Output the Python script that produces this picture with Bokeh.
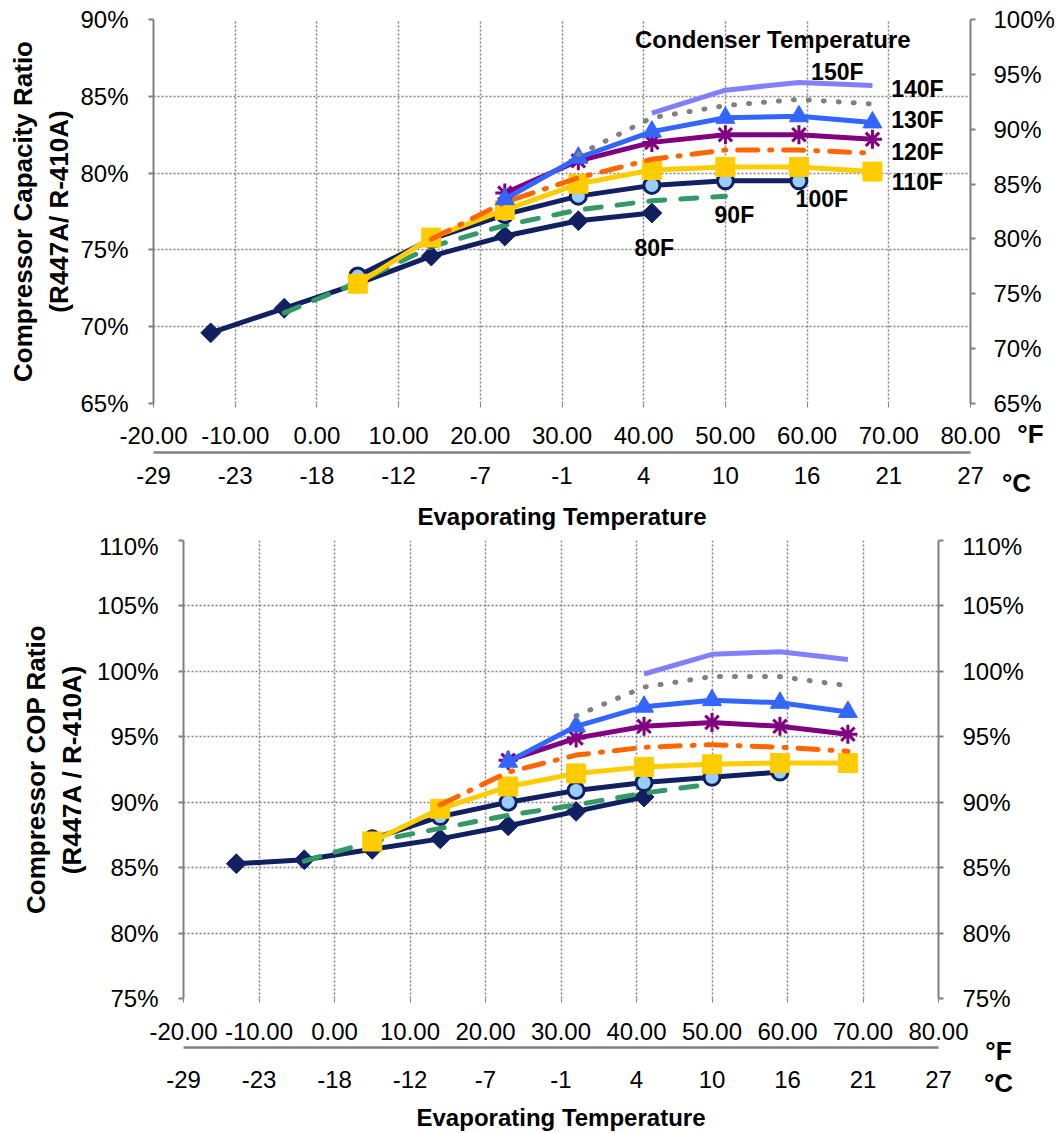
import numpy as np
from bokeh.plotting import figure
from bokeh.models import Range1d, LinearAxis, FixedTicker, Label, PrintfTickFormatter
from bokeh.embed import file_html
from bokeh.resources import INLINE

# ---------------- data ----------------
EVAP_F = [-13, -4, 5, 14, 23, 32, 41, 50, 59, 68]          # evaporating temperature, F
F_TICKS = [-20, -10, 0, 10, 20, 30, 40, 50, 60, 70, 80]
C_LABELS = ["-29", "-23", "-18", "-12", "-7", "-1", "4", "10", "16", "21", "27"]
CAP_TICKS_L = [65, 70, 75, 80, 85, 90]
CAP_TICKS_R = [65, 70, 75, 80, 85, 90, 95, 100]
COP_TICKS = [75, 80, 85, 90, 95, 100, 105, 110]

CONDENSERS = ["80F", "90F", "100F", "110F", "120F", "130F", "140F", "150F", "160F"]
# first evaporating point index of each condenser-temperature series
START_IDX = [0, 1, 2, 2, 3, 4, 4, 5, 6]

# Compressor capacity ratio (R447A / R-410A), %
cap_80F = [69.6, 71.2, 72.8, 74.6, 75.9, 76.9, 77.4]
cap_90F = [70.9, 72.9, 75.2, 76.6, 77.6, 78.2, 78.5]
cap_100F = [73.3, 75.7, 77.3, 78.5, 79.2, 79.5, 79.5]
cap_110F = [72.8, 75.8, 77.6, 79.3, 80.2, 80.4, 80.4, 80.1]
cap_120F = [75.7, 78.1, 79.7, 80.9, 81.5, 81.5, 81.3]
cap_130F = [78.7, 80.8, 82.0, 82.5, 82.5, 82.2]
cap_140F = [78.3, 81.0, 82.7, 83.6, 83.7, 83.3]
cap_150F = [81.2, 83.6, 84.4, 84.8, 84.5]
cap_160F = [83.9, 85.4, 85.9, 85.7]

# Compressor COP ratio (R447A / R-410A), %
cop_80F = [85.3, 85.6, 86.4, 87.2, 88.2, 89.3, 90.4]
cop_90F = [85.5, 87.0, 88.0, 89.0, 89.8, 90.7, 91.4]
cop_100F = [87.2, 88.9, 90.0, 90.9, 91.5, 91.9, 92.3]
cop_110F = [87.0, 89.5, 91.2, 92.2, 92.7, 92.9, 93.0, 93.0]
cop_120F = [89.8, 92.3, 93.6, 94.2, 94.4, 94.2, 93.9]
cop_130F = [93.2, 94.9, 95.8, 96.1, 95.8, 95.2]
cop_140F = [93.1, 95.8, 97.3, 97.8, 97.6, 96.9]
cop_150F = [96.6, 98.8, 99.6, 99.6, 98.9]
cop_160F = [99.8, 101.3, 101.5, 100.9]

CAP = [cap_80F, cap_90F, cap_100F, cap_110F, cap_120F, cap_130F, cap_140F, cap_150F, cap_160F]
COP = [cop_80F, cop_90F, cop_100F, cop_110F, cop_120F, cop_130F, cop_140F, cop_150F, cop_160F]

# ---------------- styles ----------------
NAVY = "#112060"
STYLES = [
    dict(color=NAVY, dash="solid", marker="diamond"),
    dict(color="#339966", dash="16 16", marker=None),
    dict(color=NAVY, dash="solid", marker="circle"),
    dict(color="#FFCC00", dash="solid", marker="square"),
    dict(color="#FF6600", dash="20 12 2 12", marker=None),
    dict(color="#800080", dash="solid", marker="asterisk"),
    dict(color="#3366FF", dash="solid", marker="triangle"),
    dict(color="#808080", dash="1 14", marker=None),
    dict(color="#8080FF", dash="solid", marker=None),
]

FONT = "Liberation Sans"
GRID = "#808080"


def draw_series(p, values_list):
    for vals, start, st in zip(values_list, START_IDX, STYLES):
        xs = EVAP_F[start:start + len(vals)]
        cap = "round" if st["dash"] != "solid" else "butt"
        p.line(xs, vals, line_color=st["color"], line_width=5,
               line_dash=st["dash"], line_cap=cap, line_join="round")
        m = st["marker"]
        if m == "diamond":
            p.scatter(xs, vals, marker="square", angle=np.pi / 4, size=14,
                      fill_color=NAVY, line_color=NAVY)
        elif m == "circle":
            p.scatter(xs, vals, marker="circle", size=16, fill_color="#99CCFF",
                      line_color=NAVY, line_width=3)
        elif m == "square":
            p.scatter(xs, vals, marker="square", size=19, fill_color=st["color"],
                      line_color=st["color"])
        elif m == "asterisk":
            p.scatter(xs, vals, marker="asterisk", size=19, line_color=st["color"],
                      line_width=3)
        elif m == "triangle":
            p.scatter(xs, vals, marker="triangle", size=19, fill_color=st["color"],
                      line_color=st["color"])


def make_fig(height, y0, y1, ticks_l, ticks_r, r0, r1, ylabel, borders, std):
    left, right, top, bottom = borders
    p = figure(width=1060, height=height, x_range=Range1d(-20, 80),
               y_range=Range1d(y0, y1), output_backend="svg",
               toolbar_location=None, min_border_left=left,
               min_border_right=right, min_border_top=top,
               min_border_bottom=bottom)
    p.outline_line_color = None
    p.background_fill_color = "white"
    p.border_fill_color = "white"

    for g in (p.xgrid[0], p.ygrid[0]):
        g.grid_line_color = GRID
        g.grid_line_dash = "2 2"
        g.grid_line_width = 1.5

    # primary x axis (F)
    xa = p.below[0]
    xa.ticker = FixedTicker(ticks=F_TICKS)
    xa.formatter = PrintfTickFormatter(format="%.2f")
    xa.axis_line_color = None
    xa.major_tick_out = 4
    xa.major_tick_in = 0
    xa.major_tick_line_color = GRID
    xa.minor_tick_line_color = None
    xa.major_label_standoff = std["fx"]
    xa.major_label_text_font = FONT
    xa.major_label_text_font_size = "24px"
    xa.major_label_text_color = "black"
    # invisible spacer below the F labels (gap before the C axis line)
    xa.axis_label = "\u00a0"
    xa.axis_label_text_font_size = "1px"
    xa.axis_label_standoff = std["gap"]

    # left y axis
    ya = p.left[0]
    ya.ticker = FixedTicker(ticks=ticks_l)
    ya.formatter = PrintfTickFormatter(format="%d%%")
    ya.axis_line_color = GRID
    ya.axis_line_width = 2
    ya.major_tick_out = 5
    ya.major_tick_in = 0
    ya.major_tick_line_color = GRID
    ya.major_tick_line_width = 2
    ya.minor_tick_line_color = None
    ya.major_label_standoff = std["ly"]
    ya.major_label_text_font = FONT
    ya.major_label_text_font_size = "24px"
    ya.major_label_text_color = "black"
    ya.axis_label = ylabel
    ya.axis_label_text_font = FONT
    ya.axis_label_text_font_style = "bold"
    ya.axis_label_text_font_size = "26px"
    ya.axis_label_text_color = "black"
    ya.axis_label_standoff = std["lt"]

    # right y axis
    p.extra_y_ranges = {"r": Range1d(r0, r1)}
    ra = LinearAxis(y_range_name="r", ticker=FixedTicker(ticks=ticks_r),
                    formatter=PrintfTickFormatter(format="%d%%"))
    ra.axis_line_color = GRID
    ra.axis_line_width = 2
    ra.major_tick_out = 5
    ra.major_tick_in = 0
    ra.major_tick_line_color = GRID
    ra.major_tick_line_width = 2
    ra.minor_tick_line_color = None
    ra.major_label_standoff = std["ry"]
    ra.major_label_text_font = FONT
    ra.major_label_text_font_size = "24px"
    ra.major_label_text_color = "black"
    p.add_layout(ra, "right")

    # secondary x axis (C)
    ca = LinearAxis(ticker=FixedTicker(ticks=F_TICKS),
                    major_label_overrides=dict(zip(F_TICKS, C_LABELS)))
    ca.axis_line_color = GRID
    ca.axis_line_width = 2.5
    ca.major_tick_out = 0
    ca.major_tick_in = 0
    ca.minor_tick_line_color = None
    ca.major_tick_line_color = None
    ca.major_label_standoff = std["cx"]
    ca.major_label_text_font = FONT
    ca.major_label_text_font_size = "24px"
    ca.major_label_text_color = "black"
    ca.axis_label = "Evaporating Temperature"
    ca.axis_label_text_font = FONT
    ca.axis_label_text_font_style = "bold"
    ca.axis_label_text_font_size = "24px"
    ca.axis_label_text_color = "black"
    ca.axis_label_standoff = std["ct"]
    p.add_layout(ca, "below")
    return p


def add_label(p, x, y, text, size="23px"):
    p.add_layout(Label(x=x, y=y, text=text, text_font=FONT,
                       text_font_style="bold", text_font_size=size,
                       text_color="black", text_align="center",
                       text_baseline="middle"))


def unit_fig(left, top, w, h, items):
    # small overlay canvas (pixel coordinates, y downwards) for the unit marks
    f = figure(width=w, height=h, x_range=Range1d(0, w), y_range=Range1d(h, 0),
               output_backend="svg", toolbar_location=None,
               x_axis_type=None, y_axis_type=None,
               min_border_left=0, min_border_right=0, min_border_top=0,
               min_border_bottom=0)
    f.grid.visible = False
    f.outline_line_color = None
    f.background_fill_alpha = 0
    f.border_fill_alpha = 0
    f.styles = {"position": "absolute", "left": f"{left}px", "top": f"{top}px"}
    for text, x, y in items:
        add_label(f, x, y, text, "26px")
    return f


# ---------------- top chart: capacity ----------------
p1 = make_fig(532, 65, 90, CAP_TICKS_L, CAP_TICKS_R, 65, 100,
              "Compressor Capacity Ratio\n(R447A/ R-410A)",
              (153, 90, 19, 128),
              dict(fx=19, gap=2, ly=20, lt=3, ry=18, cx=14, ct=16))
draw_series(p1, CAP)

add_label(p1, 55.8, 88.7, "Condenser Temperature", "24px")
CAP_LABEL_POS = [(41.3, 75.1), (51.1, 77.3), (61.8, 78.3), (73.5, 79.4),
                 (73.5, 81.4), (73.5, 83.45), (73.5, 85.5), (63.7, 86.6)]
for name, (lx, ly) in zip(CONDENSERS[:8], CAP_LABEL_POS):
    add_label(p1, lx, ly, name)

# ---------------- bottom chart: COP ----------------
p2 = make_fig(601, 75, 110, COP_TICKS, COP_TICKS, 75, 110,
              "Compressor COP Ratio\n(R447A / R-410A)",
              (183, 122, 8, 134),
              dict(fx=20, gap=1, ly=20, lt=7, ry=19, cx=23, ct=13))
draw_series(p2, COP)

u1 = unit_fig(1000, 418, 60, 80, [("°F", 30, 15), ("°C", 16, 64)])
u2 = unit_fig(975, 1034, 50, 64, [("°F", 23, 16), ("°C", 23, 48)])

open("out.html", "w").write(file_html([p1, p2, u1, u2], INLINE))
